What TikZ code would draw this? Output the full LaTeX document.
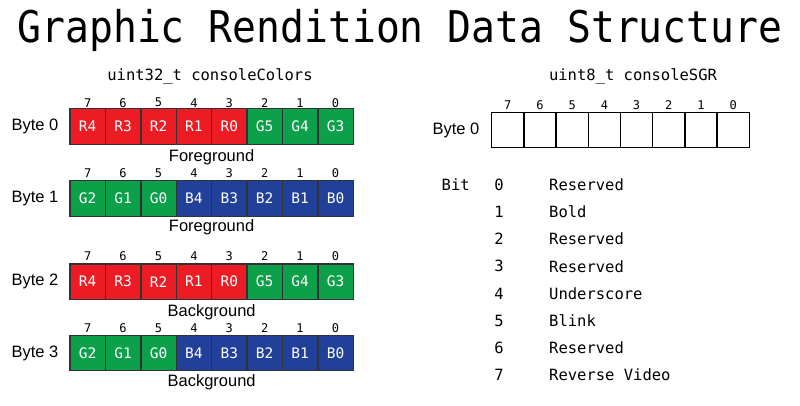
\documentclass[tikz,border=0pt]{standalone}
\usepackage{fontspec}
\setmainfont{Liberation Sans}
\newfontfamily\monof{DejaVu Sans Mono}
\definecolor{cred}{RGB}{237,28,36}
\definecolor{cgreen}{RGB}{13,160,74}
\definecolor{cblue}{RGB}{33,64,154}
\definecolor{cborder}{RGB}{50,50,50}
\begin{document}
\begin{tikzpicture}[x=1pt,y=-1pt,
  cell/.style={draw=cborder,line width=1.4pt,minimum width=35.4pt,minimum height=35.5pt,inner sep=0pt,text=white,font=\monof\fontsize{14.5}{16}\selectfont},
  ecell/.style={draw=black,line width=1.3pt,minimum width=32.2pt,minimum height=35pt,inner sep=0pt},
  bitnum/.style={font=\monof\fontsize{12}{13}\selectfont,inner sep=0pt},
  lbl/.style={font=\fontsize{16.5}{18}\selectfont,inner sep=0pt},
  mono/.style={font=\monof\fontsize{15.5}{18}\selectfont,inner sep=0pt}]
\useasboundingbox (0,0) rectangle (800,405);
\node[font=\monof\fontsize{39.7}{44}\selectfont,inner sep=0pt] (title) at (400,30) {\scalebox{1}[1.1]{Graphic Rendition Data Structure}};
\node[mono] (lt) at (210,76) {uint32\_t consoleColors};
\node[mono] (rt) at (633,76.5) {uint8\_t consoleSGR};
% left rows
\foreach \r/\cy/\ny/\ly/\lt/\cells in {
 0/126.5/102.7/157/Foreground/{R4/cred,R3/cred,R2/cred,R1/cred,R0/cred,G5/cgreen,G4/cgreen,G3/cgreen},
 1/198.5/173/227/Foreground/{G2/cgreen,G1/cgreen,G0/cgreen,B4/cblue,B3/cblue,B2/cblue,B1/cblue,B0/cblue},
 2/281.7/256/312/Background/{R4/cred,R3/cred,R2/cred,R1/cred,R0/cred,G5/cgreen,G4/cgreen,G3/cgreen},
 3/353/328/382/Background/{G2/cgreen,G1/cgreen,G0/cgreen,B4/cblue,B3/cblue,B2/cblue,B1/cblue,B0/cblue}}{
  \node[lbl] (byte\r) at (35,\cy) {Byte \r};
  \foreach \t/\c [count=\i from 0] in \cells {
    \pgfmathsetmacro{\cx}{87.7+35.4*\i}
    \pgfmathtruncatemacro{\bn}{7-\i}
    \node[cell,fill=\c] (c\r-\i) at (\cx,\cy) {\t};
    \node[bitnum] (n\r-\i) at (\cx,\ny) {\bn};
  }
  \node[lbl] (lab\r) at (211.6,\ly) {\lt};
}
% right grid
\node[lbl] (rbyte) at (456,130.5) {Byte 0};
\foreach \i in {0,...,7}{
  \pgfmathsetmacro{\cx}{507.8+32.2*\i}
  \pgfmathtruncatemacro{\bn}{7-\i}
  \node[ecell] (s\i) at (\cx,129.8) {};
  \node[bitnum] (sn\i) at (\cx,105) {\bn};
}
\node[mono,anchor=west] (bit) at (441.5,185) {Bit};
\foreach \t [count=\k from 0] in {Reserved,Bold,Reserved,Reserved,Underscore,Blink,Reserved,Reverse Video}{
  \pgfmathsetmacro{\yy}{185+27.1*\k}
  \node[mono] (bn\k) at (499,\yy) {\k};
  \node[mono,anchor=west] (bd\k) at (549,\yy) {\t};
}
\end{tikzpicture}
\end{document}
